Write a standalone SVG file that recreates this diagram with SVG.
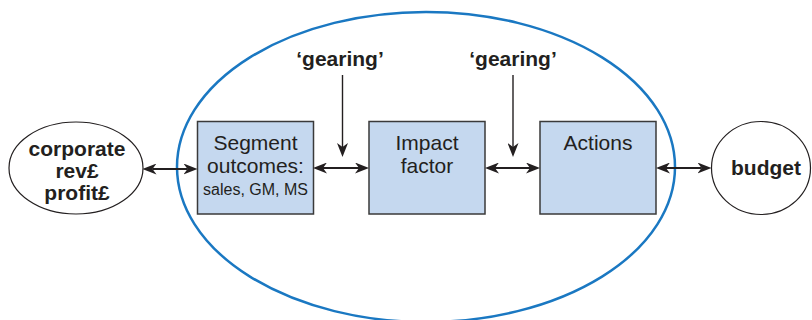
<svg xmlns="http://www.w3.org/2000/svg" width="812" height="320" viewBox="0 0 812 320">
  <defs>
    <marker id="head" markerUnits="userSpaceOnUse" markerWidth="14" markerHeight="11" viewBox="0 0 14 11" refX="4" refY="5.5" orient="auto-start-reverse">
      <path d="M0,0 L14,5.5 L0,11 L4,5.5 z" fill="#231f20"/>
    </marker>
    <style>
      .box { fill: #c5d8ef; stroke: #3a3a3a; stroke-width: 1.5; }
      .oval { fill: #ffffff; stroke: #231f20; stroke-width: 1.2; }
      .scope { fill: none; stroke: #1a78c2; stroke-width: 2.5; }
      .lbl { font-family: "Liberation Sans", Arial, sans-serif; font-size: 21px; fill: #231f20; text-anchor: middle; }
      .small { font-size: 16px; }
      .bold { font-weight: bold; font-size: 21px; }
      .link { stroke: #231f20; stroke-width: 2.2; fill: none; }
      .feed { stroke: #231f20; stroke-width: 1.4; fill: none; }
    </style>
  </defs>

  <rect width="812" height="320" fill="#ffffff"/>

  <!-- boundary around the segment model -->
  <ellipse class="scope" cx="426" cy="167" rx="249" ry="155"/>

  <g id="corporate">
    <ellipse class="oval" cx="76" cy="168" rx="67" ry="46"/>
    <text class="lbl bold" x="77" y="156">corporate</text>
    <text class="lbl bold" x="77" y="178">rev£</text>
    <text class="lbl bold" x="77" y="200">profit£</text>
  </g>

  <g id="segment">
    <rect class="box" x="197.5" y="121.5" width="116" height="92.5"/>
    <text class="lbl" x="255.5" y="150">Segment</text>
    <text class="lbl" x="255.5" y="173">outcomes:</text>
    <text class="lbl small" x="255.5" y="195">sales, GM, MS</text>
  </g>

  <g id="impact">
    <rect class="box" x="369" y="121.5" width="116" height="92.5"/>
    <text class="lbl" x="427" y="150">Impact</text>
    <text class="lbl" x="427" y="173">factor</text>
  </g>

  <g id="actions">
    <rect class="box" x="540" y="121.5" width="116" height="92.5"/>
    <text class="lbl" x="598" y="150">Actions</text>
  </g>

  <g id="budget">
    <ellipse class="oval" cx="761" cy="168" rx="49.5" ry="46.5"/>
    <text class="lbl bold" x="766" y="175">budget</text>
  </g>

  <g id="gearing-1">
    <text class="lbl bold" x="340" y="66">‘gearing’</text>
  </g>

  <g id="gearing-2">
    <text class="lbl bold" x="513" y="66">‘gearing’</text>
  </g>

  <g id="connectors">
    <line class="link" x1="152.5" y1="169" x2="187.5" y2="169" marker-start="url(#head)" marker-end="url(#head)"/>
    <line class="link" x1="323" y1="168" x2="359" y2="168" marker-start="url(#head)" marker-end="url(#head)"/>
    <line class="link" x1="495" y1="168" x2="530" y2="168" marker-start="url(#head)" marker-end="url(#head)"/>
    <line class="link" x1="666" y1="168" x2="701.5" y2="168" marker-start="url(#head)" marker-end="url(#head)"/>
    <line class="feed" x1="342.5" y1="75" x2="342.5" y2="147" marker-end="url(#head)"/>
    <line class="feed" x1="513" y1="75" x2="513" y2="147" marker-end="url(#head)"/>
  </g>
</svg>
